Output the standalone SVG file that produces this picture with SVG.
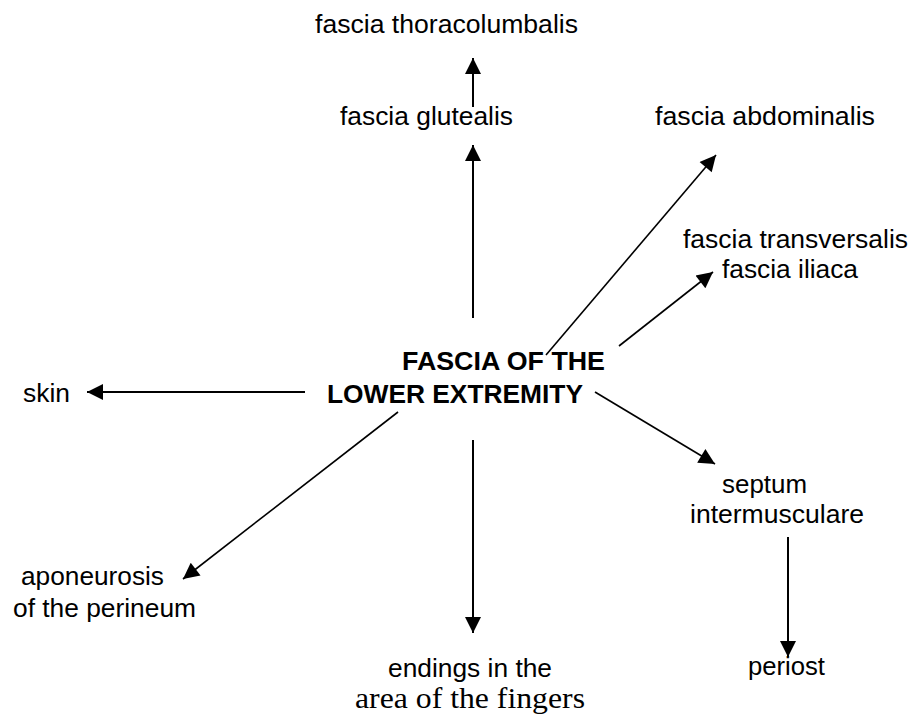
<svg xmlns="http://www.w3.org/2000/svg" width="913" height="718" viewBox="0 0 913 718">
<style>
.t{font-family:"Liberation Sans",Arial,sans-serif;font-size:25px;fill:#000}
.b{font-weight:bold}
.s{font-family:"Liberation Serif","Times New Roman",serif;font-size:29px;fill:#000}
.c line{stroke:#000;stroke-width:1.6;marker-end:url(#ah)}
</style>
<defs>
<marker id="ah" markerUnits="userSpaceOnUse" markerWidth="18" markerHeight="16" viewBox="0 0 16 16" refX="16" refY="8" orient="auto">
<path d="M0,0 L16,8 L0,16 Z" fill="#000"/>
</marker>
</defs>
<rect width="913" height="718" fill="#fff"/>
<g class="c" id="connectors">
<line x1="473" y1="107" x2="473" y2="58" style="stroke-width:2"/>
<line x1="473" y1="318" x2="473" y2="145" style="stroke-width:2"/>
<line x1="546" y1="355" x2="716" y2="155"/>
<line x1="619" y1="346" x2="713" y2="272"/>
<line x1="305" y1="392" x2="87" y2="392" style="stroke-width:2"/>
<line x1="398" y1="412" x2="183" y2="579"/>
<line x1="473" y1="440" x2="473" y2="633" style="stroke-width:2"/>
<line x1="595" y1="392" x2="715" y2="464"/>
<line x1="788" y1="537" x2="788" y2="657" style="stroke-width:2"/>
</g>
<g id="thoracolumbalis"><text class="t" x="315" y="33" textLength="263" lengthAdjust="spacingAndGlyphs">fascia thoracolumbalis</text></g>
<g id="glutealis"><text class="t" x="340" y="125" textLength="173" lengthAdjust="spacingAndGlyphs">fascia glutealis</text></g>
<g id="abdominalis"><text class="t" x="655" y="125" textLength="220" lengthAdjust="spacingAndGlyphs">fascia abdominalis</text></g>
<g id="transversalis">
<text class="t" x="683" y="248" textLength="225" lengthAdjust="spacingAndGlyphs">fascia transversalis</text>
<text class="t" x="722" y="278" textLength="136" lengthAdjust="spacingAndGlyphs">fascia iliaca</text>
</g>
<g id="center">
<text class="t b" x="402" y="370" textLength="203" lengthAdjust="spacingAndGlyphs">FASCIA OF THE</text>
<text class="t b" x="327" y="403" textLength="256" lengthAdjust="spacingAndGlyphs">LOWER EXTREMITY</text>
</g>
<g id="skin"><text class="t" x="23" y="402" textLength="47" lengthAdjust="spacingAndGlyphs">skin</text></g>
<g id="aponeurosis">
<text class="t" x="21" y="585" textLength="143" lengthAdjust="spacingAndGlyphs">aponeurosis</text>
<text class="t" x="13" y="617" textLength="183" lengthAdjust="spacingAndGlyphs">of the perineum</text>
</g>
<g id="endings">
<text class="t" x="388" y="677" textLength="164" lengthAdjust="spacingAndGlyphs">endings in the</text>
<text class="s" x="355" y="708" textLength="230" lengthAdjust="spacingAndGlyphs">area of the fingers</text>
</g>
<g id="septum">
<text class="t" x="722" y="493" textLength="85" lengthAdjust="spacingAndGlyphs">septum</text>
<text class="t" x="690" y="523" textLength="174" lengthAdjust="spacingAndGlyphs">intermusculare</text>
</g>
<g id="periost"><text class="t" x="748" y="675" textLength="77" lengthAdjust="spacingAndGlyphs">periost</text></g>
</svg>
